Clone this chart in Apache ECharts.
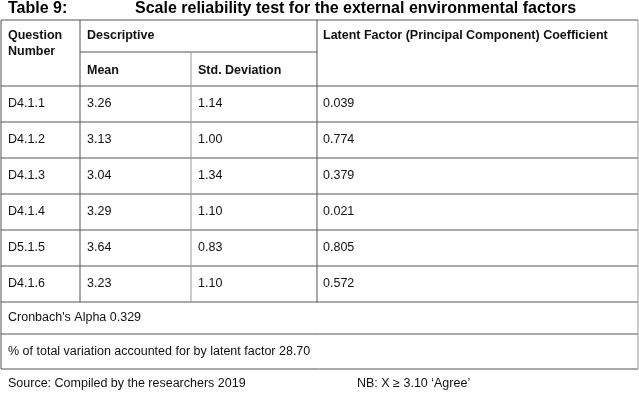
<!DOCTYPE html>
<html><head><meta charset="utf-8">
<script src="https://cdn.jsdelivr.net/npm/echarts@6/dist/echarts.min.js"></script>
<style>html,body{margin:0;background:#fff}#c{width:639px;height:416px}</style>
</head><body><div id="c"></div>
<script>
var questions = ['D4.1.1', 'D4.1.2', 'D4.1.3', 'D4.1.4', 'D5.1.5', 'D4.1.6'];
var means = ['3.26', '3.13', '3.04', '3.29', '3.64', '3.23'];
var stdDevs = ['1.14', '1.00', '1.34', '1.10', '0.83', '1.10'];
var coefficients = ['0.039', '0.774', '0.379', '0.021', '0.805', '0.572'];
var alphaText = "Cronbach's Alpha 0.329";
var variationText = '% of total variation accounted for by latent factor 28.70';

// layout
var colX = [1, 80, 191, 317, 638];
var rowY = [20, 86, 122, 158, 194, 230, 266, 302, 334, 369];
var midY = 52;
var font = '12.5px "Liberation Sans", Arial, sans-serif';
var bold = 'bold 12.5px "Liberation Sans", Arial, sans-serif';

var g = [];
function line(x1, y1, x2, y2, c) {
  g.push({ type: 'line', shape: { x1: x1, y1: y1, x2: x2, y2: y2 }, style: { stroke: c || '#555', lineWidth: 1 } });
}
function text(x, y, t, f, v) {
  g.push({ type: 'text', x: x, y: y, style: { text: t, font: f || font, fill: '#111', textVerticalAlign: v || 'middle' } });
}
// horizontal lines
line(colX[0], rowY[0], colX[4], rowY[0]);
line(colX[1], midY, colX[3], midY);
for (var i = 1; i < rowY.length; i++) line(colX[0], rowY[i], colX[4], rowY[i]);
// vertical lines
line(colX[0], rowY[0], colX[0], rowY[9]);
line(colX[4], rowY[0], colX[4], rowY[9], '#999');
line(colX[1], rowY[0], colX[1], rowY[7]);
line(colX[2], midY, colX[2], rowY[7], '#999');
line(colX[3], rowY[0], colX[3], rowY[7]);

var titleFont = 'bold 16px "Liberation Sans", Arial, sans-serif';
g.push({ type: 'text', x: 8, y: 9, style: { text: 'Table 9:', font: titleFont, fill: '#000', textVerticalAlign: 'middle' } });
g.push({ type: 'text', x: 135, y: 9, style: { text: 'Scale reliability test for the external environmental factors', font: titleFont, fill: '#000', textVerticalAlign: 'middle' } });

text(8, 36, 'Question', bold);
text(8, 52, 'Number', bold);
text(87, 36, 'Descriptive', bold);
text(87, 71, 'Mean', bold);
text(198, 71, 'Std. Deviation', bold);
text(323, 36, 'Latent Factor (Principal Component) Coefficient', bold);

questions.forEach(function (q, i) {
  var y = (rowY[i + 1] + rowY[i + 2]) / 2;
  text(8, y, q);
  text(87, y, means[i]);
  text(198, y, stdDevs[i]);
  text(323, y, coefficients[i]);
});
text(8, (rowY[7] + rowY[8]) / 2, alphaText);
text(8, (rowY[8] + rowY[9]) / 2, variationText);
text(8, 384, 'Source: Compiled by the researchers 2019');
text(357, 384, 'NB: X \u2265 3.10 \u2018Agree\u2019');

var chart = echarts.init(document.getElementById('c'));
chart.setOption({ animation: false, graphic: g });
</script></body></html>
